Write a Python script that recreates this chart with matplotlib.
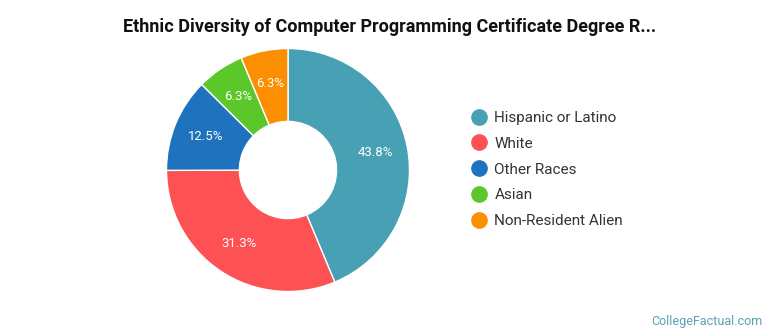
import matplotlib.pyplot as plt
from matplotlib.lines import Line2D

plt.rcParams["font.family"] = ["Roboto", "DejaVu Sans"]

categories = ["Hispanic or Latino", "White", "Other Races", "Asian", "Non-Resident Alien"]
shares = [43.8, 31.3, 12.5, 6.3, 6.3]
colors = ["#48a0b5", "#fd5154", "#1f73be", "#5cc72b", "#fb8e01"]

W, H = 770, 335
fig = plt.figure(figsize=(W / 100, H / 100), dpi=100)

cx, cy, r = 288, 170, 121.5
ax = fig.add_axes([(cx - r) / W, (H - cy - r) / H, 2 * r / W, 2 * r / H])

wedges, _, autotexts = ax.pie(
    shares,
    colors=colors,
    startangle=90,
    counterclock=False,
    radius=1,
    autopct=lambda p: "",
    pctdistance=0.73,
    wedgeprops=dict(width=0.6, edgecolor="white", linewidth=1),
)
for t, v in zip(autotexts, shares):
    t.set_text(f"{v:.1f}%")
    t.set_color("white")
    t.set_fontsize(9.5)
ax.set_xlim(-1, 1)
ax.set_ylim(-1, 1)
ax.set_aspect("equal")
ax.axis("off")

handles = [
    Line2D([], [], marker="o", linestyle="none", markersize=11,
           markerfacecolor=c, markeredgecolor=c)
    for c in colors
]
fig.legend(
    handles, categories,
    loc="upper left", bbox_to_anchor=(470 / W, 1 - 111 / H),
    frameon=False, fontsize=11, labelspacing=0.77,
    handletextpad=0.4, handlelength=1.2, labelcolor="#333333",
    borderaxespad=0, borderpad=0,
)

fig.text(390 / W, 1 - 27 / H,
         "Ethnic Diversity of Computer Programming Certificate Degree R...",
         ha="center", va="center", fontsize=13, fontweight="bold", color="#111111")
fig.text(763 / W, 1 - 321 / H, "CollegeFactual.com", ha="right", va="center",
         fontsize=9, color="#5b9fb4")

fig.savefig("out.png", dpi=100)
